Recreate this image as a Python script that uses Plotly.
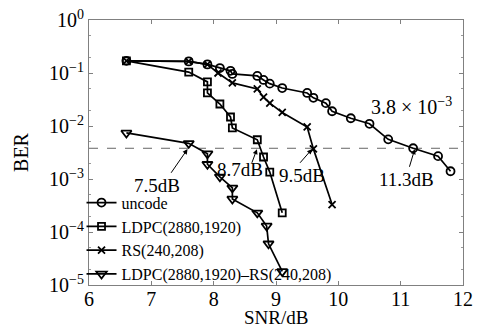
import math
import plotly.graph_objects as go

# ---- data ----
snr_uncode = [6.6, 7.6, 7.9, 8.1, 8.27, 8.3, 8.7, 8.8, 8.9, 9.1, 9.5, 9.6, 9.8, 9.9, 10.2, 10.5, 10.8, 11.2, 11.6, 11.8]
ber_uncode = [0.17, 0.165, 0.145, 0.124, 0.11, 0.096, 0.088, 0.074, 0.063, 0.052, 0.042, 0.034, 0.027, 0.019, 0.014, 0.011, 0.0056, 0.0038, 0.0027, 0.0014]

snr_ldpc = [6.6, 7.6, 7.9, 7.9, 8.1, 8.27, 8.3, 8.7, 8.8, 8.9, 9.1]
ber_ldpc = [0.17, 0.104, 0.068, 0.042, 0.026, 0.0148, 0.0092, 0.0055, 0.0026, 0.00135, 0.00023]

snr_rs = [6.6, 7.6, 7.9, 8.07, 8.3, 8.7, 8.8, 8.9, 9.1, 9.5, 9.6, 9.9]
ber_rs = [0.17, 0.165, 0.145, 0.1, 0.065, 0.05, 0.035, 0.027, 0.018, 0.0096, 0.0037, 0.00033]

snr_cat = [6.6, 7.6, 7.9, 7.9, 8.1, 8.3, 8.3, 8.7, 8.85, 8.88, 9.1]
ber_cat = [0.0074, 0.0047, 0.0030, 0.0019, 0.0011, 0.00068, 0.00042, 0.00023, 0.00013, 0.00006, 0.000018]

names = ["uncode", "LDPC(2880,1920)", "RS(240,208)", "LDPC(2880,1920)–RS(240,208)"]
threshold = 3.8e-3
x_ticks = [6, 7, 8, 9, 10, 11, 12]
y_tickvals = [1, 0.1, 0.01, 0.001, 0.0001, 0.00001]
y_ticktext = ["10<sup>0</sup>", "10<sup>−1</sup>", "10<sup>−2</sup>", "10<sup>−3</sup>", "10<sup>−4</sup>", "10<sup>−5</sup>"]

# crossing labels: text, arrow-head SNR, label SNR, label log10(BER)
cross_text = ["7.5dB", "8.7dB", "9.5dB", "11.3dB"]
cross_head = [7.59, 8.70, 9.59, 11.23]
cross_lx = [7.09, 8.42, 9.42, 11.09]
cross_ly = [-3.13, -2.83, -2.94, -3.0]
arrow_off = [(-18, 26), (-6, 16), (-14, 16), (-6, 20)]

FONT = "Liberation Serif, Times New Roman, serif"

fig = go.Figure()
fig.add_trace(go.Scatter(x=[6, 12], y=[threshold, threshold], mode="lines",
                         line=dict(color="#666666", width=1, dash="dash"),
                         showlegend=False, hoverinfo="skip"))

series = [(snr_uncode, ber_uncode, "circle-open", 8),
          (snr_ldpc, ber_ldpc, "square-open", 7),
          (snr_rs, ber_rs, "x-thin-open", 7),
          (snr_cat, ber_cat, "triangle-down-open", 9)]
for (xs, ys, sym, sz), nm in zip(series, names):
    fig.add_trace(go.Scatter(x=xs, y=ys, mode="lines+markers", name=nm,
                             line=dict(color="black", width=1.7),
                             marker=dict(symbol=sym, size=sz, color="black",
                                         line=dict(color="black", width=1.8))))

for txt, hx, tx, ty, (ax, ay) in zip(cross_text, cross_head, cross_lx, cross_ly, arrow_off):
    fig.add_annotation(x=hx, y=math.log10(threshold), text="", showarrow=True,
                       ax=ax, ay=ay, arrowhead=2, arrowsize=1, arrowwidth=1,
                       arrowcolor="black", standoff=1)
    fig.add_annotation(x=tx, y=ty, text=txt, showarrow=False,
                       font=dict(size=19, color="black", family=FONT))

fig.add_annotation(x=11.17, y=-1.62, text="3.8 × 10<sup>−3</sup>", showarrow=False,
                   font=dict(size=20, color="black", family=FONT))

# x-axis title placed below the tick labels
fig.add_annotation(x=0.5, y=0, xref="paper", yref="paper", yanchor="middle",
                   yshift=-32, text="SNR/dB", showarrow=False, borderpad=0,
                   font=dict(size=19, color="black", family=FONT))

axis_common = dict(showline=True, linecolor="#808080", linewidth=1, mirror="ticks",
                   ticks="inside", tickcolor="#808080", ticklen=4, showgrid=False,
                   zeroline=False, automargin=False,
                   tickfont=dict(size=20, family=FONT, color="black"))

fig.update_xaxes(range=[6, 12], tickvals=x_ticks, ticklabelstandoff=-4, **axis_common)
fig.update_yaxes(type="log", range=[-5, 0], tickvals=y_tickvals, ticktext=y_ticktext,
                 minor=dict(ticks="inside", ticklen=2, tickcolor="#999999", showgrid=False),
                 title=dict(text="BER", font=dict(size=20, family=FONT, color="black")),
                 **axis_common)

fig.update_layout(width=483, height=329, margin=dict(l=89, r=20, t=20, b=44),
                  paper_bgcolor="white", plot_bgcolor="white",
                  font=dict(family=FONT, color="black"),
                  legend=dict(x=-0.02, y=-0.025, xanchor="left", yanchor="bottom",
                              bgcolor="rgba(0,0,0,0)", borderwidth=0,
                              font=dict(size=16, family=FONT, color="black"),
                              itemwidth=30, tracegroupgap=0))

fig.write_html("out.html")
